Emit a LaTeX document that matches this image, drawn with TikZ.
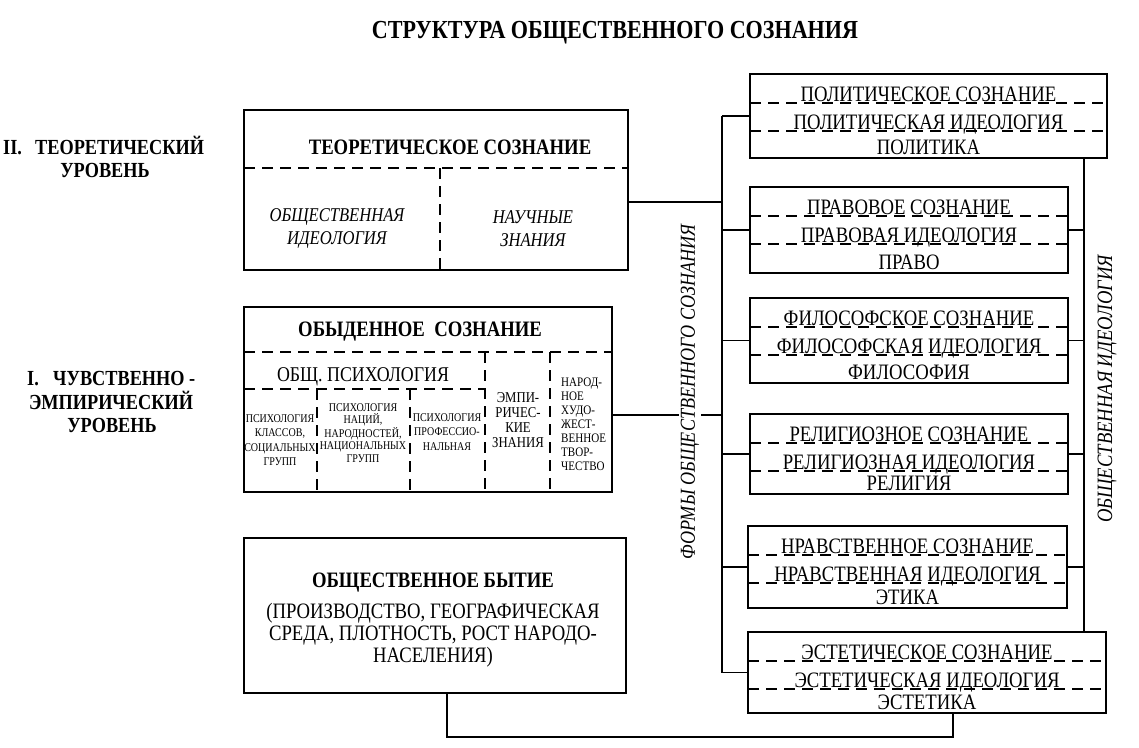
\documentclass[tikz,border=0pt]{standalone}
\usepackage{graphicx}
\usepackage{fontspec}
\setmainfont{Liberation Serif}
\newcommand\cx[1]{\scalebox{0.85}[1]{#1}}
\newcommand\rbox[8]{%
  \node[box, anchor=north west, minimum width=#4pt, minimum height=#5pt] (#1) at (#2,#3) {};
  \draw[dsh] ([yshift=-29pt]#1.north west) -- ([yshift=-29pt]#1.north east);
  \draw[dsh] ([yshift=-57pt]#1.north west) -- ([yshift=-57pt]#1.north east);
  \node[rt, anchor=base] (#1a) at ([yshift=-27pt]#1.north) {\cx{#6}};
  \node[rt, anchor=base] (#1b) at ([yshift=-55pt]#1.north) {\cx{#7}};
  \node[rt, anchor=base] (#1c) at ([yshift=4pt]#1.south) {\cx{#8}};
}
\begin{document}
\begin{tikzpicture}[x=1pt,y=-1pt,
  box/.style={draw, line width=1.5pt, inner sep=0pt, outer sep=0pt},
  dsh/.style={line width=1.4pt, dash pattern=on 11pt off 7pt},
  conn/.style={line width=1.5pt},
  txt/.style={inner sep=0pt, align=center},
  rt/.style={txt, font=\fontsize{22}{25}\selectfont},
  bigb/.style={txt, font=\fontsize{22}{25}\selectfont\bfseries},
  lab/.style={inner sep=0pt, font=\fontsize{21.5}{23}\selectfont\bfseries},
  ital/.style={txt, font=\fontsize{19.5}{23}\selectfont\itshape},
  small/.style={txt, font=\fontsize{11.8}{14.5}\selectfont},
]
\useasboundingbox (0,0) rectangle (1139,747);

% title
\node[txt, font=\fontsize{26}{28}\selectfont\bfseries] (title) at (615,33) {\cx{СТРУКТУРА ОБЩЕСТВЕННОГО СОЗНАНИЯ}};

% level labels
\node[lab, anchor=base west] (l2n) at (3,154) {\cx{II.}};
\node[lab, anchor=base west] (l2a) at (35,154) {\cx{ТЕОРЕТИЧЕСКИЙ}};
\node[lab, anchor=base] (l2b) at (105,177) {\cx{УРОВЕНЬ}};
\node[lab, anchor=base west] (l1n) at (27,385) {\cx{I.}};
\node[lab, anchor=base west] (l1a) at (53,385) {\cx{ЧУВСТВЕННО -}};
\node[lab, anchor=base] (l1b) at (111,409) {\cx{ЭМПИРИЧЕСКИЙ}};
\node[lab, anchor=base] (l1c) at (112,432) {\cx{УРОВЕНЬ}};

% theoretical consciousness
\node[box, anchor=north west, minimum width=384pt, minimum height=160pt] (th) at (244,110) {};
\draw[dsh] ([yshift=-58pt]th.north west) -- ([yshift=-58pt]th.north east);
\draw[dsh] ([xshift=196pt,yshift=-58pt]th.north west) -- ([xshift=196pt]th.south west);
\node[bigb] (tht) at (450,147) {\cx{ТЕОРЕТИЧЕСКОЕ СОЗНАНИЕ}};
\node[ital] (thi) at (337,229) {\cx{ОБЩЕСТВЕННАЯ}\\\cx{ИДЕОЛОГИЯ}};
\node[ital] (thn) at (533,229) {\cx{НАУЧНЫЕ}\\\cx{ЗНАНИЯ}};

% ordinary consciousness
\node[box, anchor=north west, minimum width=368pt, minimum height=185pt] (ob) at (244,307) {};
\draw[dsh] ([yshift=-45pt]ob.north west) -- ([yshift=-45pt]ob.north east);
\draw[dsh] ([xshift=241pt,yshift=-45pt]ob.north west) -- ([xshift=241pt]ob.south west);
\draw[dsh] ([xshift=306pt,yshift=-45pt]ob.north west) -- ([xshift=306pt]ob.south west);
\draw[dsh] ([yshift=-82pt]ob.north west) -- ([xshift=241pt,yshift=-82pt]ob.north west);
\draw[dsh] ([xshift=73pt,yshift=-82pt]ob.north west) -- ([xshift=73pt]ob.south west);
\draw[dsh] ([xshift=166pt,yshift=-82pt]ob.north west) -- ([xshift=166pt]ob.south west);
\node[bigb] (obt) at (420,332) {\cx{ОБЫДЕННОЕ\ \ СОЗНАНИЕ}};
\node[txt, font=\fontsize{21}{24}\selectfont] (obp) at (363,377) {\cx{ОБЩ. ПСИХОЛОГИЯ}};
\node[small] (ob1) at (280,440) {\cx{ПСИХОЛОГИЯ}\\\cx{КЛАССОВ,}\\\cx{СОЦИАЛЬНЫХ}\\\cx{ГРУПП}};
\node[small, font=\fontsize{11.8}{12.5}\selectfont] (ob2) at (363,433) {\cx{ПСИХОЛОГИЯ}\\\cx{НАЦИЙ,}\\\cx{НАРОДНОСТЕЙ,}\\\cx{НАЦИОНАЛЬНЫХ}\\\cx{ГРУПП}};
\node[small] (ob3) at (447,432) {\cx{ПСИХОЛОГИЯ}\\\cx{ПРОФЕССИО-}\\\cx{НАЛЬНАЯ}};
\node[txt, font=\fontsize{15}{15}\selectfont] (ob4) at (518,420) {\cx{ЭМПИ-}\\\cx{РИЧЕС-}\\\cx{КИЕ}\\\cx{ЗНАНИЯ}};
\node[inner sep=0pt, align=left, anchor=west, font=\fontsize{13}{14}\selectfont] (ob5) at (561,424) {\cx{НАРОД-}\\\cx{НОЕ}\\\cx{ХУДО-}\\\cx{ЖЕСТ-}\\\cx{ВЕННОЕ}\\\cx{ТВОР-}\\\cx{ЧЕСТВО}};

% social being
\node[box, anchor=north west, minimum width=382pt, minimum height=155pt] (bt) at (244,538) {};
\node[txt, font=\fontsize{22}{25}\selectfont\bfseries] (btt) at (433,583) {\cx{ОБЩЕСТВЕННОЕ БЫТИЕ}};
\node[txt, font=\fontsize{22}{22}\selectfont] (btl) at (433,635) {\cx{(ПРОИЗВОДСТВО, ГЕОГРАФИЧЕСКАЯ}\\\cx{СРЕДА, ПЛОТНОСТЬ, РОСТ НАРОДО-}\\\cx{НАСЕЛЕНИЯ)}};

% forms
\rbox{pol}{750}{74}{357}{84}{ПОЛИТИЧЕСКОЕ СОЗНАНИЕ}{ПОЛИТИЧЕСКАЯ ИДЕОЛОГИЯ}{ПОЛИТИКА}
\rbox{prav}{750}{187}{318}{86}{ПРАВОВОЕ СОЗНАНИЕ}{ПРАВОВАЯ ИДЕОЛОГИЯ}{ПРАВО}
\rbox{phil}{750}{298}{318}{85}{ФИЛОСОФСКОЕ СОЗНАНИЕ}{ФИЛОСОФСКАЯ ИДЕОЛОГИЯ}{ФИЛОСОФИЯ}
\rbox{rel}{750}{414}{318}{80}{РЕЛИГИОЗНОЕ СОЗНАНИЕ}{РЕЛИГИОЗНАЯ ИДЕОЛОГИЯ}{РЕЛИГИЯ}
\rbox{nrav}{748}{526}{319}{82}{НРАВСТВЕННОЕ СОЗНАНИЕ}{НРАВСТВЕННАЯ ИДЕОЛОГИЯ}{ЭТИКА}
\rbox{aes}{748}{632}{358}{81}{ЭСТЕТИЧЕСКОЕ СОЗНАНИЕ}{ЭСТЕТИЧЕСКАЯ ИДЕОЛОГИЯ}{ЭСТЕТИКА}

% connectors
\coordinate (lbx) at (722,0);
\coordinate (rbx) at (1084,0);
\coordinate (thy) at (0,202);
\coordinate (oby) at (0,415);
\coordinate (bb1) at (953,737);
\coordinate (bb2) at (447,737);
\draw[conn] (pol.west -| lbx) -- (aes.west -| lbx);
\foreach \n in {pol,prav,phil,rel,nrav,aes} \draw[conn] (\n.west) -- (\n.west -| lbx);
\draw[conn] (th.east |- thy) -- (lbx |- thy);
\draw[conn] (ob.east |- oby) -- (lbx |- oby);
\draw[conn] (pol.south -| rbx) -- (aes.north -| rbx);
\foreach \n in {prav,phil,rel,nrav} \draw[conn] (\n.east) -- (\n.east -| rbx);
\draw[conn] (aes.south -| bb1) -- (bb1) -- (bb2) -- (bt.south -| bb2);

% vertical labels
\node[rotate=90, fill=white, inner sep=2pt, font=\fontsize{21.3}{22}\selectfont\itshape] (formy) at (690,392) {\cx{ФОРМЫ ОБЩЕСТВЕННОГО СОЗНАНИЯ}};
\node[rotate=90, inner sep=0pt, font=\fontsize{21.9}{22}\selectfont\itshape] (ideol) at (1107,389) {\cx{ОБЩЕСТВЕННАЯ ИДЕОЛОГИЯ}};
\end{tikzpicture}
\end{document}
